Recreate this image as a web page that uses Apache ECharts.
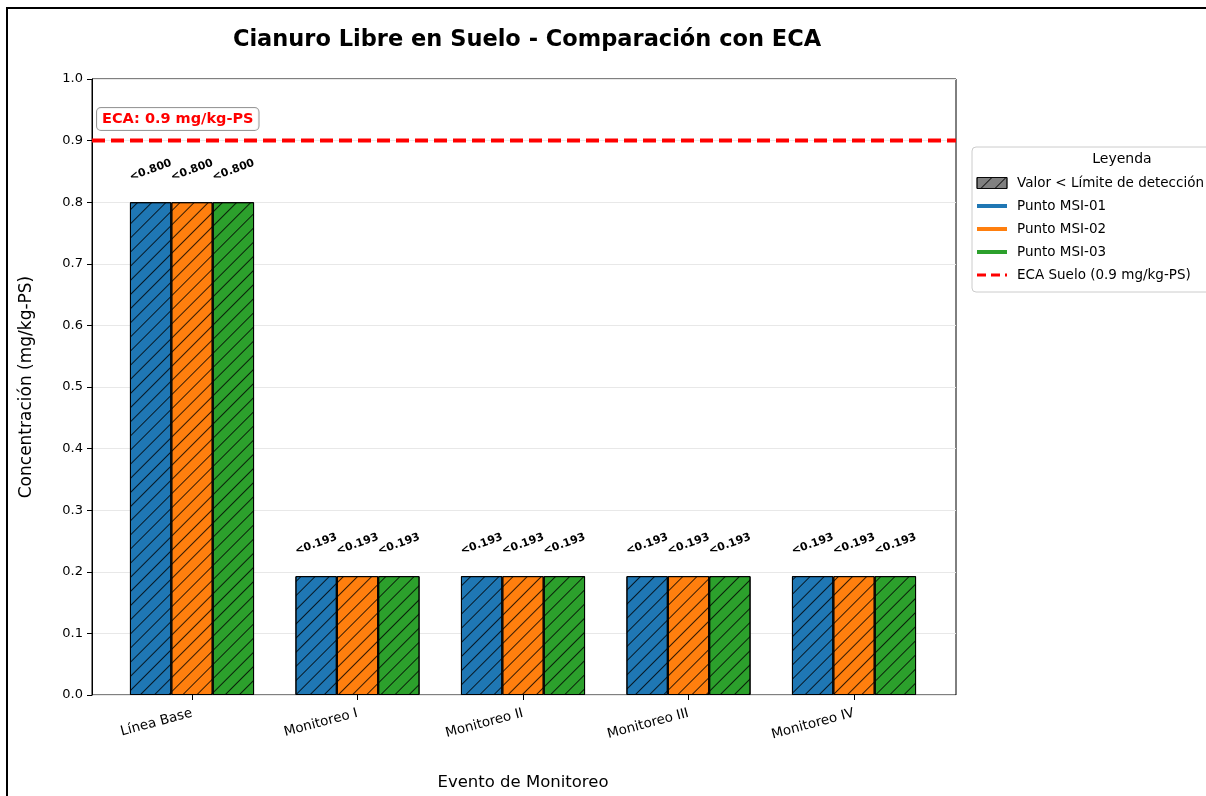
<!DOCTYPE html>
<html>
<head>
<meta charset="utf-8">
<title>Cianuro Libre en Suelo</title>
<script src="https://cdn.jsdelivr.net/npm/echarts@6/dist/echarts.min.js"></script>
<style>
  html, body { margin: 0; padding: 0; background: #fff; }
  #chart { width: 1206px; height: 796px; }
</style>
</head>
<body>
<div id="chart"></div>
<script>
// datos
const categories = ['Línea Base', 'Monitoreo I', 'Monitoreo II', 'Monitoreo III', 'Monitoreo IV'];
const msi01 = [0.8, 0.193, 0.193, 0.193, 0.193];
const msi02 = [0.8, 0.193, 0.193, 0.193, 0.193];
const msi03 = [0.8, 0.193, 0.193, 0.193, 0.193];
const ecaLimit = 0.9;
const pointNames = ['Punto MSI-01', 'Punto MSI-02', 'Punto MSI-03'];
const pointColors = ['#1f77b4', '#ff7f0e', '#2ca02c'];
const ecaName = 'ECA Suelo (0.9 mg/kg-PS)';
const belowName = 'Valor < Límite de detección';

const font = 'DejaVu Sans';

// trama de lineas diagonales
const hatch = {
  symbol: 'rect',
  symbolSize: 1,
  color: 'rgba(0,0,0,0.8)',
  dashArrayX: [1, 0],
  dashArrayY: [0.7, 9],
  rotation: -Math.PI / 4
};

const chart = echarts.init(document.getElementById('chart'));

const barSeries = [msi01, msi02, msi03].map((vals, i) => ({
  name: pointNames[i] + ' ',
  type: 'bar',
  xAxisIndex: 0,
  yAxisIndex: 0,
  data: vals,
  barWidth: '25%',
  barGap: '0%',
  itemStyle: {
    color: pointColors[i],
    borderColor: '#000',
    borderWidth: 1,
    decal: hatch
  },
  label: {
    show: true,
    position: 'top',
    distance: 32,
    rotate: 20,
    align: 'center',
    verticalAlign: 'middle',
    fontFamily: font,
    fontSize: 11,
    fontWeight: 'bold',
    color: '#000',
    formatter: p => '<' + p.value.toFixed(3)
  }
}));

// series vacias solo para la leyenda
const legendLines = pointNames.map((n, i) => ({
  name: n,
  type: 'line',
  xAxisIndex: 1,
  yAxisIndex: 1,
  data: [],
  symbol: 'none',
  lineStyle: { color: pointColors[i], width: 4 },
  itemStyle: { color: pointColors[i] }
}));

const lineItem = (name, lineStyle) => ({ name, itemStyle: { opacity: 0 }, lineStyle });

const option = {
  animation: false,
  backgroundColor: '#fff',
  title: {
    text: 'Cianuro Libre en Suelo - Comparación con ECA',
    left: 522,
    top: 24,
    textAlign: 'center',
    textStyle: { fontFamily: font, fontSize: 22.5, fontWeight: 'bold', color: '#000' }
  },
  grid: [
    { left: 109.25, right: 269.25, top: 79, bottom: 101 },
    { left: 92, right: 250, top: 79, bottom: 101, show: true, borderColor: '#000', borderWidth: 1, backgroundColor: 'transparent' }
  ],
  xAxis: [
    {
      type: 'category',
      gridIndex: 0,
      data: categories,
      axisLine: { show: false },
      axisTick: { show: true, alignWithLabel: true, length: 5, lineStyle: { color: '#000' } },
      axisLabel: { rotate: 15, margin: 18, fontFamily: font, fontSize: 13.5, color: '#000' },
      name: 'Evento de Monitoreo',
      nameLocation: 'middle',
      nameGap: 79,
      nameTextStyle: { fontFamily: font, fontSize: 16.5, color: '#000' }
    },
    {
      type: 'value',
      gridIndex: 1,
      min: 0,
      max: 1,
      show: false
    }
  ],
  yAxis: [
    { type: 'value', gridIndex: 0, min: 0, max: 1, show: false },
    {
      type: 'value',
      gridIndex: 1,
      min: 0,
      max: 1,
      interval: 0.1,
      axisLine: { show: true, lineStyle: { color: '#000' } },
      axisTick: { show: true, length: 5, lineStyle: { color: '#000' } },
      axisLabel: { fontFamily: font, fontSize: 13, color: '#000', margin: 9, formatter: v => v.toFixed(1) },
      splitLine: { show: true, lineStyle: { color: '#e8e8e8', width: 1 } },
      name: 'Concentración (mg/kg-PS)',
      nameLocation: 'middle',
      nameGap: 57,
      nameTextStyle: { fontFamily: font, fontSize: 17, color: '#000' }
    }
  ],
  legend: {
    orient: 'vertical',
    left: 972,
    top: 147,
    padding: [29, 8, 10, 3],
    itemWidth: 30,
    itemHeight: 11,
    itemGap: 9,
    borderColor: '#ccc',
    borderWidth: 1,
    borderRadius: 4,
    backgroundColor: '#fff',
    textStyle: { fontFamily: font, fontSize: 13.5, color: '#000', padding: [0, 0, 0, 5] },
    data: [
      { name: belowName, icon: 'rect', itemStyle: { borderWidth: 0.8, borderColor: '#000' } },
      lineItem(pointNames[0], { width: 4 }),
      lineItem(pointNames[1], { width: 4 }),
      lineItem(pointNames[2], { width: 4 }),
      lineItem(ecaName, { width: 3, type: [9, 5] })
    ]
  },
  graphic: [
    {
      type: 'rect',
      silent: true,
      shape: { x: 7, y: 8, width: 1400, height: 1000 },
      style: { fill: 'none', stroke: '#000', lineWidth: 2 }
    },
    {
      type: 'text',
      x: 1122,
      y: 152,
      z: 100,
      style: { text: 'Leyenda', fontFamily: font, fontSize: 14, fill: '#000', align: 'center' }
    },
    {
      type: 'text',
      x: 97,
      y: 108,
      z: 100,
      style: {
        text: 'ECA: ' + ecaLimit + ' mg/kg-PS',
        fontFamily: font,
        fontSize: 14.5,
        fontWeight: 'bold',
        fill: '#ff0000',
        backgroundColor: 'rgba(255,255,255,0.9)',
        borderColor: '#999',
        borderWidth: 1,
        borderRadius: 4,
        padding: [4, 5, 3, 5]
      }
    }
  ],
  series: barSeries.concat(legendLines, [
    {
      name: belowName,
      type: 'bar',
      xAxisIndex: 1,
      yAxisIndex: 1,
      data: [],
      itemStyle: { color: '#808080', borderColor: '#000', borderWidth: 0.8, decal: hatch }
    },
    {
      name: ecaName,
      type: 'line',
      xAxisIndex: 1,
      yAxisIndex: 1,
      data: [[0, ecaLimit], [1, ecaLimit]],
      symbol: 'none',
      z: 5,
      lineStyle: { color: '#ff0000', width: 4, type: [13, 6] },
      itemStyle: { color: '#ff0000' }
    }
  ])
};

chart.setOption(option);
</script>
</body>
</html>
